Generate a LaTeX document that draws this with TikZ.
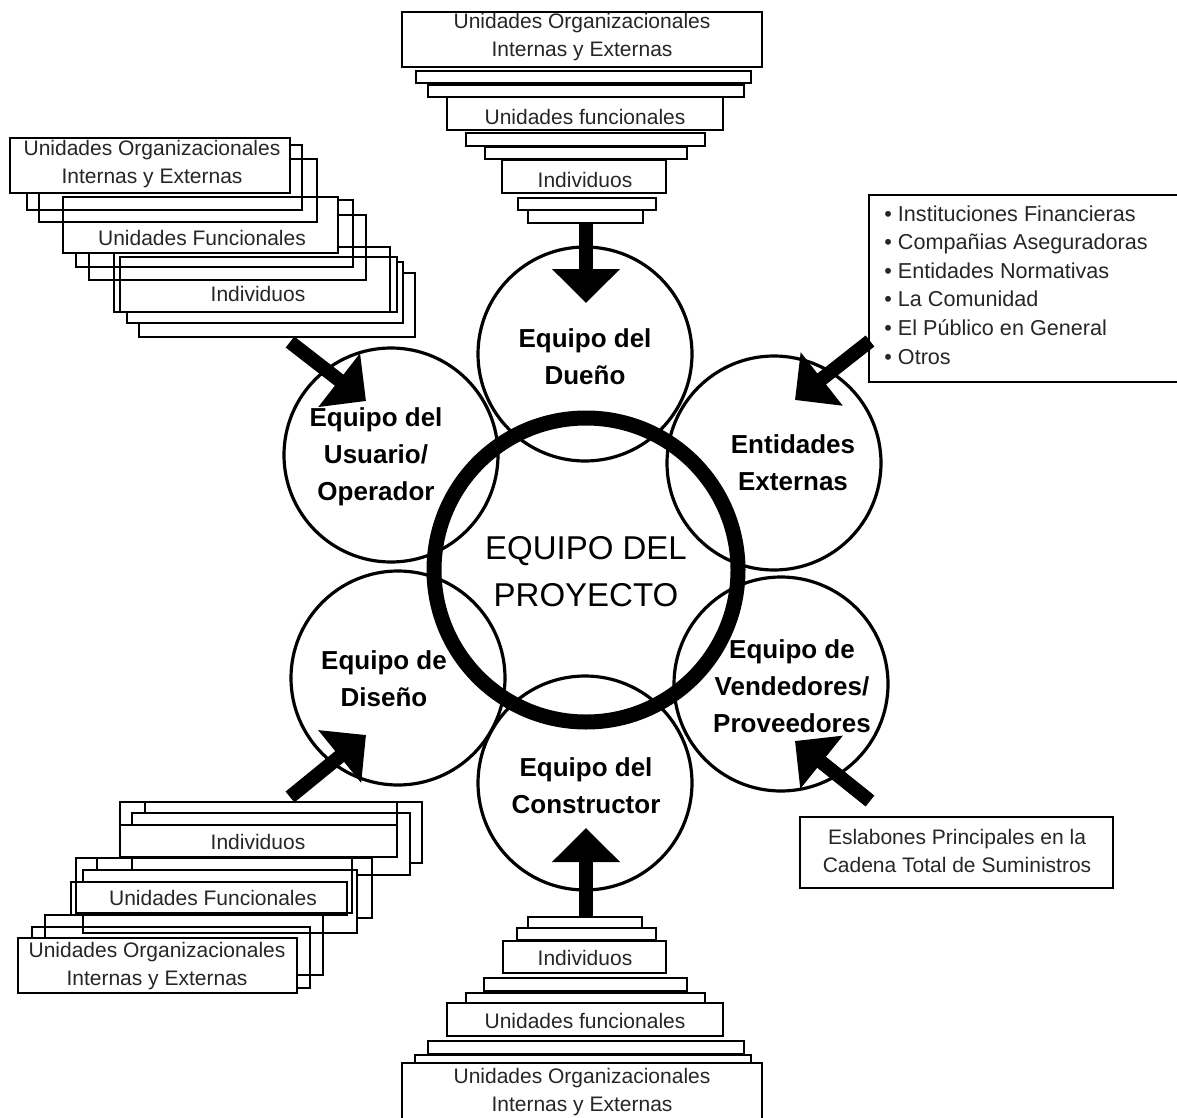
\documentclass[tikz,border=0pt]{standalone}
\usepackage{fontspec}
\setmainfont{Liberation Sans}
\usetikzlibrary{arrows.meta}
\newcommand\myplate[4]{\draw[platebox] (#1,#2) rectangle (#3,#4);}
\newcommand\myghost[4]{\draw[shadowbox] (#1,#2) rectangle (#3,#4);}
\begin{document}
\begin{tikzpicture}[x=0.5pt,y=-0.5pt,
  platebox/.style={draw=black, fill=white, line width=1.1pt},
  shadowbox/.style={draw=black, line width=1.1pt},
  sat/.style={draw=black, line width=1.6pt},
  lbl/.style={font=\fontsize{13}{18.5}\selectfont\bfseries, align=center, inner sep=0pt},
  small/.style={font=\fontsize{10.5}{14}\selectfont, align=center, inner sep=0pt, text=black!85},
  bigarrow/.style={line width=7pt, -{Triangle[length=17pt,width=33pt]}},
]
\useasboundingbox (0,0) rectangle (1177,1118);

% ---------- top stack ----------
\myplate{402}{12}{762}{67}
\myplate{416}{71}{751}{83}
\myplate{428}{85}{744}{97}
\myplate{447}{97}{723}{130}
\myplate{466}{133}{705}{146}
\myplate{485}{147}{687}{159}
\myplate{502}{160}{666}{193}
\myplate{518}{198}{656}{210}
\myplate{528}{210}{643}{223}
\node[small] (tOrg) at (582,37) {Unidades Organizacionales\\Internas y Externas};
\node[small] (tFun) at (585,117) {Unidades funcionales};
\node[small] (tInd) at (585,180) {Individuos};

% ---------- bottom stack ----------
\myplate{528}{917}{642}{928}
\myplate{517}{928}{656}{940}
\myplate{503}{941}{666}{973}
\myplate{484}{978}{687}{991}
\myplate{466}{993}{705}{1003}
\myplate{447}{1003}{723}{1036}
\myplate{428}{1041}{744}{1054}
\myplate{415}{1055}{751}{1065}
\myplate{402}{1063}{762}{1140}
\node[small] (bInd) at (585,958) {Individuos};
\node[small] (bFun) at (585,1021) {Unidades funcionales};
\node[small] (bOrg) at (582,1092) {Unidades Organizacionales\\Internas y Externas};

% ---------- top-left stack ----------
\myghost{139}{273}{415}{337}
\myplate{127}{262}{403}{323}
\myplate{120}{257}{397}{312}
\myghost{114}{247}{390}{312}
\node[small] (lInd) at (258,294) {Individuos};
\myghost{89}{215}{366}{280}
\myghost{76}{200}{353}{267}
\myplate{63}{197}{338}{253}
\node[small] (lFun) at (202,238) {Unidades Funcionales};
\myghost{39}{159}{317}{222}
\myghost{27}{145}{302}{210}
\myplate{10}{138}{290}{193}
\node[small] (lOrg) at (152,164) {Unidades Organizacionales\\Internas y Externas};

% ---------- bottom-left stack ----------
\myghost{145}{802}{422}{863}
\myplate{132}{813}{410}{875}
\myplate{120}{825}{397}{857}
\myghost{120}{802}{397}{857}
\node[small] (dInd) at (258,842) {Individuos};
\myghost{97}{858}{372}{918}
\myplate{83}{870}{357}{933}
\myplate{71}{882}{347}{915}
\myghost{76}{858}{352}{913}
\node[small] (dFun) at (213,898) {Unidades Funcionales};
\myghost{45}{915}{323}{975}
\myghost{32}{927}{310}{988}
\myplate{18}{938}{297}{993}
\node[small] (dOrg) at (157,966) {Unidades Organizacionales\\Internas y Externas};

% ---------- right boxes ----------
\myplate{869}{195}{1195}{382}
\node[font=\fontsize{10.8}{14.3}\selectfont, align=left, inner sep=0pt, anchor=north west, text=black!85] (ext) at (884,205)
  {• Instituciones Financieras\\• Compañias Aseguradoras\\• Entidades Normativas\\• La Comunidad\\• El Público en General\\• Otros};
\myplate{800}{817}{1113}{888}
\node[small] (sup) at (957,851) {Eslabones Principales en la\\Cadena Total de Suministros};

% ---------- circles ----------
\draw[sat] (585,354) circle [radius=53.5pt];
\draw[sat] (774,463) circle [radius=53.5pt];
\draw[sat] (781,684) circle [radius=53.5pt];
\draw[sat] (585,783) circle [radius=53.5pt];
\draw[sat] (398,678) circle [radius=53.5pt];
\draw[sat] (391,455) circle [radius=53.5pt];
\draw[line width=7.5pt] (586,570) circle [radius=76pt];

\node[lbl] (due) at (585,357) {Equipo del\\Dueño};
\node[lbl] (usu) at (376,457) {Equipo del\\Usuario/\\Operador};
\node[lbl] (ent) at (793,463) {Entidades\\Externas};
\node[lbl] (ven) at (792,686) {Equipo de\\Vendedores/\\Proveedores};
\node[lbl] (con) at (586,786) {Equipo del\\Constructor};
\node[lbl] (dis) at (384,679) {Equipo de\\Diseño};
\node[font=\fontsize{16.5}{23.5}\selectfont, align=center, inner sep=0pt] (proj) at (586,572) {EQUIPO DEL\\PROYECTO};

% ---------- arrows ----------
\coordinate (a1s) at (586,223); \coordinate (a1e) at (586,303);
\coordinate (a2s) at (586,917); \coordinate (a2e) at (586,828);
\coordinate (a3s) at (290,342); \coordinate (a3e) at (366,401);
\coordinate (a4s) at (870,341); \coordinate (a4e) at (795,400);
\coordinate (a5s) at (290,797); \coordinate (a5e) at (366,735);
\coordinate (a6s) at (870,801); \coordinate (a6e) at (795,741);
\draw[bigarrow] (a1s) -- (a1e);
\draw[bigarrow] (a2s) -- (a2e);
\draw[bigarrow] (a3s) -- (a3e);
\draw[bigarrow] (a4s) -- (a4e);
\draw[bigarrow] (a5s) -- (a5e);
\draw[bigarrow] (a6s) -- (a6e);
\end{tikzpicture}
\end{document}
